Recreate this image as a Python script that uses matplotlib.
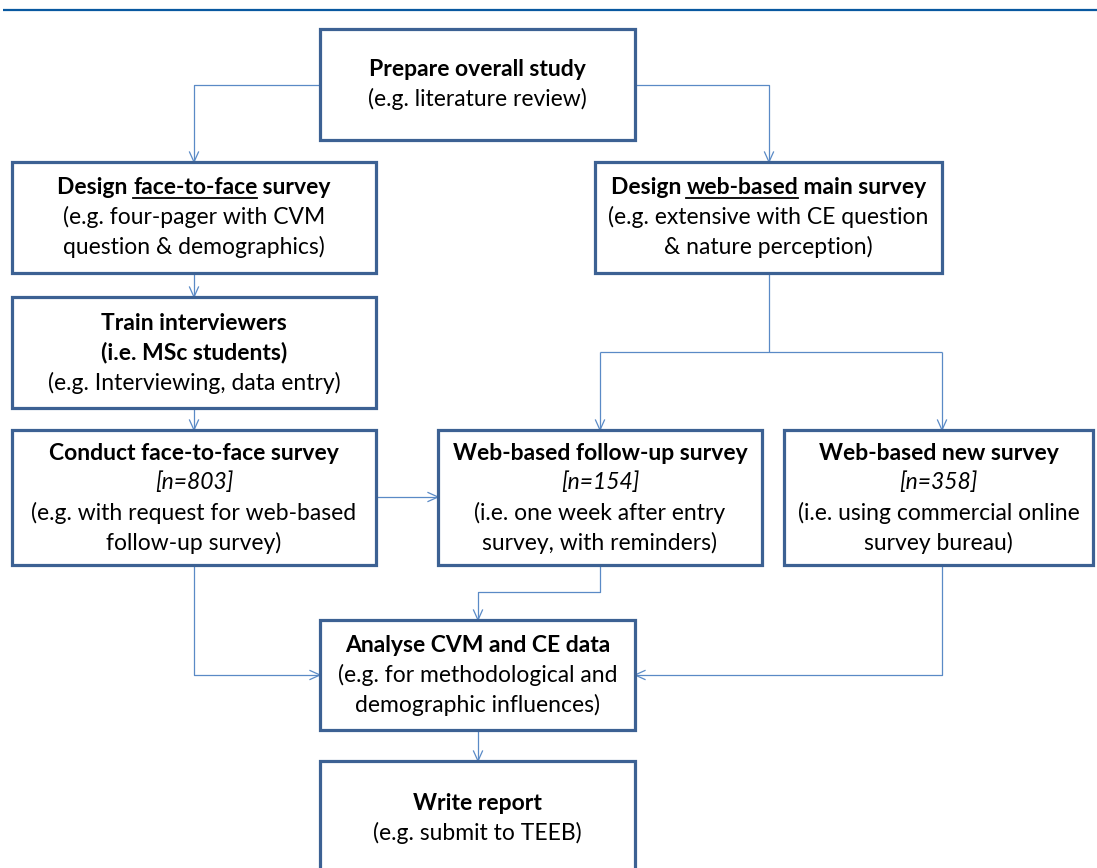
import matplotlib
matplotlib.use("Agg")
import matplotlib.pyplot as plt

# Canvas size in pixels; one data unit = one pixel, y grows downwards
W, H = 1097, 868

# Box texts: each line is a list of (text, style) pieces
# style: "b" bold, "bu" bold + underline, "i" italic, "r" regular
prepare_text = [[("Prepare overall study", "b")],
                [("(e.g. literature review)", "r")]]
design_f2f_text = [[("Design ", "b"), ("face-to-face", "bu"), (" survey", "b")],
                   [("(e.g. four-pager with CVM", "r")],
                   [("question & demographics)", "r")]]
design_web_text = [[("Design ", "b"), ("web-based", "bu"), (" main survey", "b")],
                   [("(e.g. extensive with CE question", "r")],
                   [("& nature perception)", "r")]]
train_text = [[("Train interviewers", "b")],
              [("(i.e. MSc students)", "b")],
              [("(e.g. Interviewing, data entry)", "r")]]
conduct_text = [[("Conduct face-to-face survey", "b")],
                [("[n=803]", "i")],
                [("(e.g. with request for web-based", "r")],
                [("follow-up survey)", "r")]]
followup_text = [[("Web-based follow-up survey", "b")],
                 [("[n=154]", "i")],
                 [("(i.e. one week after entry", "r")],
                 [("survey, with reminders)", "r")]]
newsurvey_text = [[("Web-based new survey", "b")],
                  [("[n=358]", "i")],
                  [("(i.e. using commercial online", "r")],
                  [("survey bureau)", "r")]]
analyse_text = [[("Analyse CVM and CE data", "b")],
                [("(e.g. for methodological and", "r")],
                [("demographic influences)", "r")]]
report_text = [[("Write report", "b")],
               [("(e.g. submit to TEEB)", "r")]]

# Box layout (left, top, right, bottom) in pixels
boxes = {
    "prepare":    ((320, 29, 635, 140), prepare_text),
    "design_f2f": ((12, 162, 376, 273), design_f2f_text),
    "design_web": ((595, 162, 942, 273), design_web_text),
    "train":      ((12, 297, 376, 408), train_text),
    "conduct":    ((12, 430, 376, 565), conduct_text),
    "followup":   ((438, 430, 762, 565), followup_text),
    "newsurvey":  ((784, 430, 1093, 565), newsurvey_text),
    "analyse":    ((320, 620, 635, 730), analyse_text),
    "report":     ((320, 761, 635, 876), report_text),
}

# Connectors: polylines, (arrow at end?)
connectors = [
    ([(320, 85), (194, 85), (194, 162)], True),
    ([(635, 85), (769, 85), (769, 162)], True),
    ([(194, 273), (194, 297)], True),
    ([(194, 408), (194, 430)], True),
    ([(769, 273), (769, 352)], False),
    ([(600, 352), (942, 352)], False),
    ([(600, 352), (600, 430)], True),
    ([(942, 352), (942, 430)], True),
    ([(376, 497), (438, 497)], True),
    ([(194, 565), (194, 675), (320, 675)], True),
    ([(600, 565), (600, 592), (478, 592), (478, 620)], True),
    ([(942, 565), (942, 675), (635, 675)], True),
    ([(478, 730), (478, 761)], True),
]

font_family = ["Lato", "DejaVu Sans"]
font_size = 16.5
line_step = 30
box_edge = "#3c6193"
line_col = "#5a8ac6"

fig = plt.figure(figsize=(W / 100, H / 100), dpi=100)
ax = fig.add_axes([0, 0, 1, 1])
ax.set_xlim(0, W)
ax.set_ylim(H, 0)
ax.axis("off")
renderer = fig.canvas.get_renderer()

# Rule across the top
ax.plot([3, W], [10, 10], color="#0858a0", lw=1.6, solid_capstyle="butt")

# Connectors with open V arrowheads
for pts, arrow in connectors:
    xs = [p[0] for p in pts]
    ys = [p[1] for p in pts]
    ax.plot(xs, ys, color=line_col, lw=0.9, solid_capstyle="butt")
    if arrow:
        (x0, y0), (x1, y1) = pts[-2], pts[-1]
        dx, dy = x1 - x0, y1 - y0
        n = (dx ** 2 + dy ** 2) ** 0.5
        ux, uy = dx / n, dy / n
        hl, hw = 10, 4.5
        for s in (-1, 1):
            ax.plot([x1 - ux * hl - uy * hw * s, x1],
                    [y1 - uy * hl + ux * hw * s, y1],
                    color=line_col, lw=0.9)

# Boxes and their text
for name, ((l, t, r, b), lines) in boxes.items():
    ax.add_patch(plt.Rectangle((l, t), r - l, b - t, fill=True, facecolor="white",
                               edgecolor=box_edge, lw=2.3, zorder=3))
    cx = (l + r) / 2
    cy = (t + b) / 2
    if name == "report":
        cy = 818
    first = cy - line_step * (len(lines) - 1) / 2
    for i, line in enumerate(lines):
        base = first + i * line_step + 7
        pieces = []
        for txt, style in line:
            obj = ax.text(0, base, txt, fontsize=font_size, family=font_family,
                          fontweight="bold" if "b" in style else "normal",
                          fontstyle="italic" if style == "i" else "normal",
                          ha="left", va="baseline", zorder=4)
            wdt = obj.get_window_extent(renderer).width
            pieces.append((obj, wdt, style))
        total = sum(p[1] for p in pieces)
        x = cx - total / 2
        for obj, wdt, style in pieces:
            obj.set_x(x)
            if "u" in style:
                ax.plot([x, x + wdt], [base + 3, base + 3], color="black",
                        lw=1.3, zorder=4)
            x += wdt

fig.savefig("out.png", dpi=100)
